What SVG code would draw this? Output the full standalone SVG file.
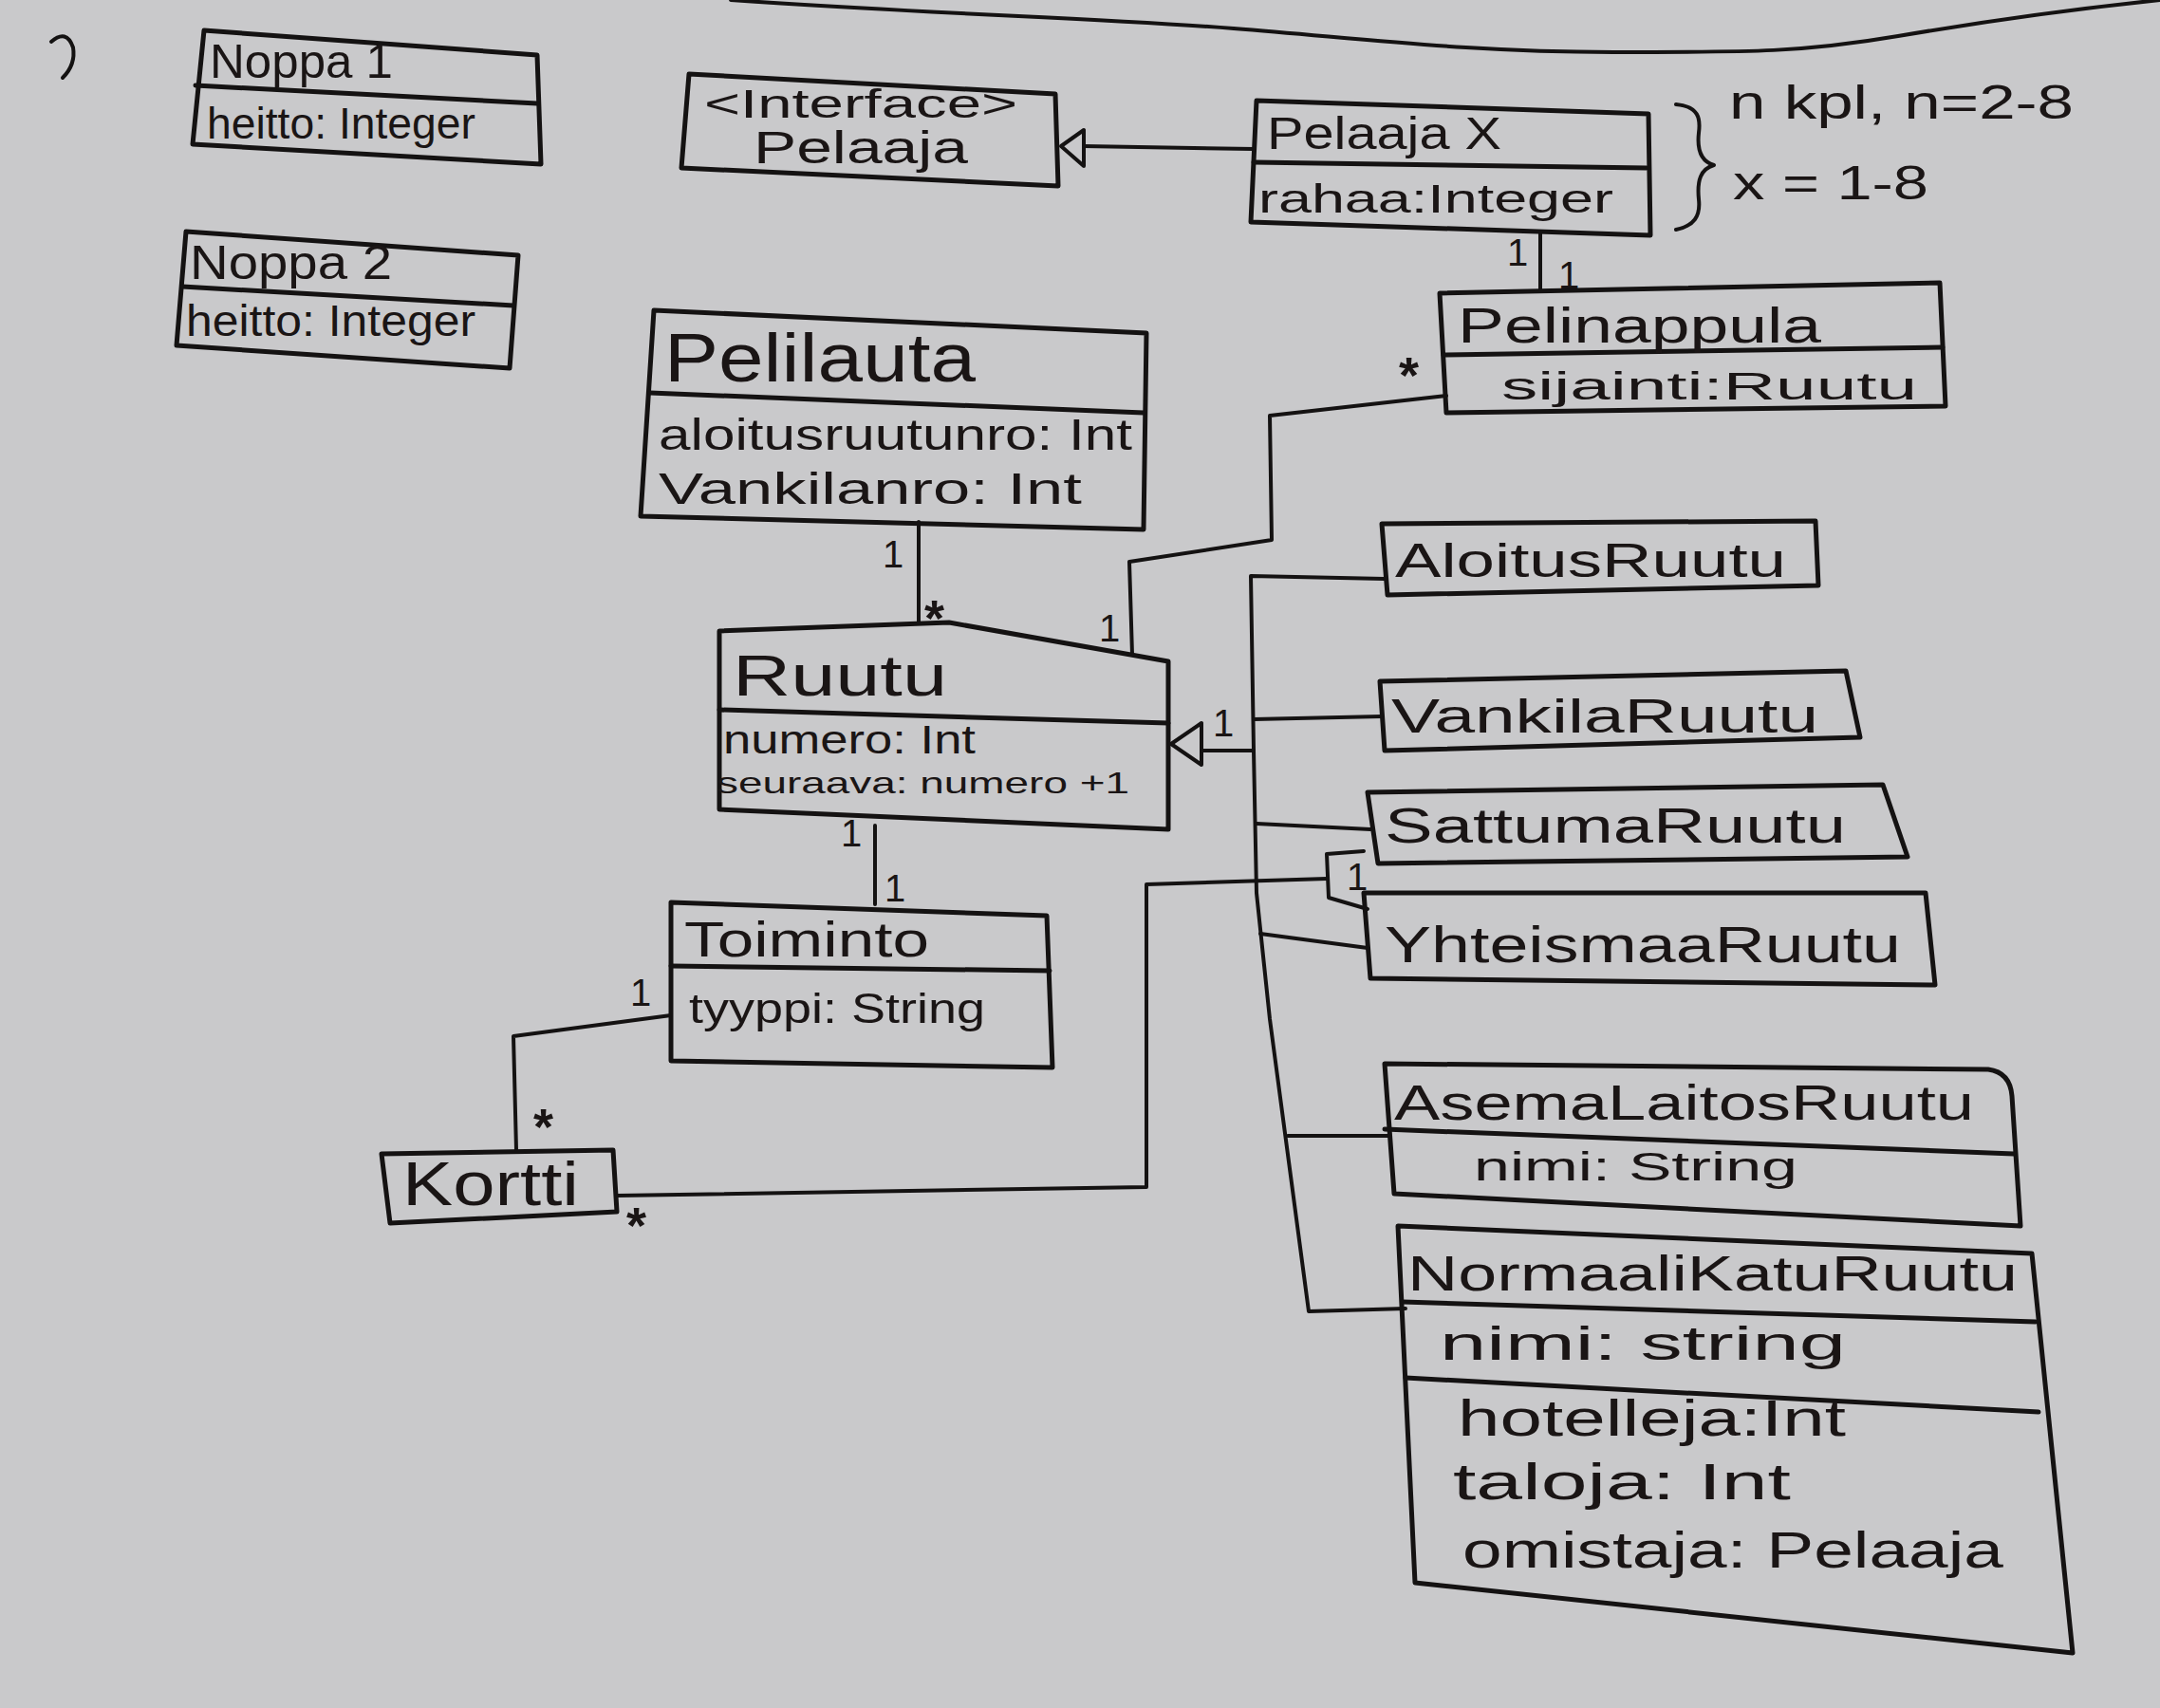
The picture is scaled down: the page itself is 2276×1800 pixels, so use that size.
<svg xmlns="http://www.w3.org/2000/svg" width="2276" height="1800" viewBox="0 0 2276 1800">
<style>
.bx{fill:none;stroke:#141212;stroke-width:5;stroke-linejoin:round;stroke-linecap:round}
.ln{fill:none;stroke:#141212;stroke-width:4;stroke-linejoin:round;stroke-linecap:round}
.t{font-family:"Liberation Sans","DejaVu Sans",sans-serif;fill:#1a1515}
.lb{font-family:"Liberation Sans","DejaVu Sans",sans-serif;fill:#1a1515;font-size:40px}
.st{font-family:"Liberation Sans","DejaVu Sans",sans-serif;fill:#1a1515;font-size:54px;font-weight:bold}
</style>
<rect width="2276" height="1800" fill="#c9c9cb"/>
<path class="ln" d="M770,0 C1000,16 1150,18 1300,30 S1550,55 1700,55 S1900,55 2000,38 S2200,8 2276,0"/>
<path class="ln" d="M54,44 Q70,30 77,50 Q80,68 66,82" stroke-width="7"/>

<g id="connectors">
  <path class="ln" d="M1321,157 L1142,154"/>
  <path class="ln" d="M1118,154 L1142,137 L1142,175 Z" fill="#c9c9cb"/>
  <path class="ln" d="M1623,244 L1623,306"/>
  <path class="ln" d="M1524,417 L1338,438 L1340,569 L1190,592 L1193,690"/>
  <path class="ln" d="M968,550 L968,657"/>
  <path class="ln" d="M922,870 L922,953"/>
  <path class="ln" d="M707,1070 L541,1092 L544,1212"/>
  <path class="ln" d="M650,1260 L1208,1251 L1208,932 L1398,926"/>
  <path class="ln" d="M1437,897 L1398,900 L1400,946 L1441,958"/>
  <path class="ln" d="M1234,784 L1266,762 L1266,806 Z" fill="#c9c9cb"/>
  <path class="ln" d="M1266,791 L1321,791"/>
  <path class="ln" d="M1459,610 L1318,607 L1321,791 L1324,941 L1338,1074 L1379,1382 L1481,1379"/>
  <path class="ln" d="M1321,758 L1456,755"/>
  <path class="ln" d="M1324,868 L1444,874"/>
  <path class="ln" d="M1328,984 L1441,999"/>
  <path class="ln" d="M1357,1197 L1463,1197"/>
  <text class="lb" x="1588" y="280">1</text>
  <text class="lb" x="1642" y="304">1</text>
  <text class="st" x="1474" y="414">*</text>
  <text class="lb" x="1158" y="676">1</text>
  <text class="lb" x="930" y="598">1</text>
  <text class="st" x="974" y="670">*</text>
  <text class="lb" x="886" y="892">1</text>
  <text class="lb" x="932" y="950">1</text>
  <text class="lb" x="664" y="1060">1</text>
  <text class="st" x="562" y="1206">*</text>
  <text class="st" x="660" y="1310">*</text>
  <text class="lb" x="1419" y="938">1</text>
  <text class="lb" x="1278" y="776">1</text>
</g>

<g id="noppa1">
  <path class="bx" d="M215,32 L566,58 L570,173 L203,152 Z"/>
  <path class="bx" d="M206,90 L566,109"/>
  <text class="t" x="221" y="82" font-size="50" textLength="193" lengthAdjust="spacingAndGlyphs">Noppa 1</text>
  <text class="t" x="218" y="146" font-size="46" textLength="283" lengthAdjust="spacingAndGlyphs">heitto: Integer</text>
</g>
<g id="noppa2">
  <path class="bx" d="M196,244 L546,269 L537,388 L186,364 Z"/>
  <path class="bx" d="M192,302 L541,322"/>
  <text class="t" x="200" y="294" font-size="50" textLength="213" lengthAdjust="spacingAndGlyphs">Noppa 2</text>
  <text class="t" x="196" y="354" font-size="46" textLength="305" lengthAdjust="spacingAndGlyphs">heitto: Integer</text>
</g>
<g id="interface-pelaaja">
  <path class="bx" d="M726,78 L1112,99 L1115,196 L718,177 Z"/>
  <text class="t" x="742" y="124" font-size="42" textLength="330" lengthAdjust="spacingAndGlyphs">&lt;Interface&gt;</text>
  <text class="t" x="794" y="172" font-size="48" textLength="226" lengthAdjust="spacingAndGlyphs">Pelaaja</text>
</g>
<g id="pelaajax">
  <path class="bx" d="M1324,106 L1737,120 L1739,248 L1318,234 Z"/>
  <path class="bx" d="M1321,171 L1735,177"/>
  <text class="t" x="1335" y="157" font-size="48" textLength="247" lengthAdjust="spacingAndGlyphs">Pelaaja X</text>
  <text class="t" x="1326" y="224" font-size="42" textLength="374" lengthAdjust="spacingAndGlyphs">rahaa:Integer</text>
</g>
<g id="note">
  <path class="ln" d="M1766,110 C1790,112 1792,125 1790,140 C1788,158 1792,170 1806,174 C1792,178 1788,190 1790,210 C1792,228 1785,238 1766,242"/>
  <text class="t" x="1822" y="125" font-size="50" textLength="363" lengthAdjust="spacingAndGlyphs">n kpl, n=2-8</text>
  <text class="t" x="1826" y="210" font-size="50" textLength="206" lengthAdjust="spacingAndGlyphs">x = 1-8</text>
</g>
<g id="pelinappula">
  <path class="bx" d="M1517,309 L2044,298 L2050,428 L1524,435 Z"/>
  <path class="bx" d="M1521,374 L2047,366"/>
  <text class="t" x="1536" y="361" font-size="52" textLength="383" lengthAdjust="spacingAndGlyphs">Pelinappula</text>
  <text class="t" x="1582" y="421" font-size="40" textLength="438" lengthAdjust="spacingAndGlyphs">sijainti:Ruutu</text>
</g>
<g id="pelilauta">
  <path class="bx" d="M689,327 L1208,351 L1205,558 L675,544 Z"/>
  <path class="bx" d="M685,414 L1205,435"/>
  <text class="t" x="700" y="402" font-size="72" textLength="328" lengthAdjust="spacingAndGlyphs">Pelilauta</text>
  <text class="t" x="694" y="474" font-size="46" textLength="499" lengthAdjust="spacingAndGlyphs">aloitusruutunro: Int</text>
  <text class="t" x="694" y="531" font-size="46" textLength="446" lengthAdjust="spacingAndGlyphs">Vankilanro: Int</text>
</g>
<g id="ruutu">
  <path class="bx" d="M758,665 L1000,656 L1231,697 L1231,874 L758,853 Z"/>
  <path class="bx" d="M758,748 L1231,762"/>
  <text class="t" x="772" y="733" font-size="62" textLength="226" lengthAdjust="spacingAndGlyphs">Ruutu</text>
  <text class="t" x="762" y="794" font-size="42" textLength="266" lengthAdjust="spacingAndGlyphs">numero: Int</text>
  <text class="t" x="755" y="836" font-size="32" textLength="435" lengthAdjust="spacingAndGlyphs">seuraava: numero +1</text>
</g>
<g id="toiminto">
  <path class="bx" d="M707,951 L1103,965 L1109,1125 L707,1118 Z"/>
  <path class="bx" d="M707,1018 L1106,1023"/>
  <text class="t" x="721" y="1008" font-size="52" textLength="258" lengthAdjust="spacingAndGlyphs">Toiminto</text>
  <text class="t" x="726" y="1078" font-size="44" textLength="312" lengthAdjust="spacingAndGlyphs">tyyppi: String</text>
</g>
<g id="kortti">
  <path class="bx" d="M402,1216 L646,1212 L650,1277 L411,1289 Z"/>
  <text class="t" x="424" y="1270" font-size="64" textLength="186" lengthAdjust="spacingAndGlyphs">Kortti</text>
</g>
<g id="aloitusruutu">
  <path class="bx" d="M1456,552 L1913,549 L1916,617 L1462,627 Z"/>
  <text class="t" x="1470" y="608" font-size="50" textLength="412" lengthAdjust="spacingAndGlyphs">AloitusRuutu</text>
</g>
<g id="vankilaruutu">
  <path class="bx" d="M1454,718 L1945,707 L1960,777 L1459,791 Z"/>
  <text class="t" x="1466" y="772" font-size="50" textLength="450" lengthAdjust="spacingAndGlyphs">VankilaRuutu</text>
</g>
<g id="sattumaruutu">
  <path class="bx" d="M1441,835 L1984,827 L2010,903 L1452,910 Z"/>
  <text class="t" x="1459" y="888" font-size="52" textLength="486" lengthAdjust="spacingAndGlyphs">SattumaRuutu</text>
</g>
<g id="yhteismaaruutu">
  <path class="bx" d="M1437,941 L2029,941 L2039,1038 L1444,1031 Z"/>
  <text class="t" x="1459" y="1014" font-size="54" textLength="544" lengthAdjust="spacingAndGlyphs">YhteismaaRuutu</text>
</g>
<g id="asemalaitosruutu">
  <path class="bx" d="M1459,1121 L2095,1127 Q2118,1130 2120,1155 L2129,1292 L1469,1258 Z"/>
  <path class="bx" d="M1459,1190 L2122,1216"/>
  <text class="t" x="1469" y="1180" font-size="52" textLength="611" lengthAdjust="spacingAndGlyphs">AsemaLaitosRuutu</text>
  <text class="t" x="1553" y="1244" font-size="42" textLength="341" lengthAdjust="spacingAndGlyphs">nimi: String</text>
</g>
<g id="normaalikaturuutu">
  <path class="bx" d="M1473,1292 L2141,1321 L2184,1742 L1491,1668 Z"/>
  <path class="bx" d="M1478,1372 L2145,1393"/>
  <path class="bx" d="M1481,1452 L2148,1488"/>
  <text class="t" x="1483" y="1360" font-size="52" textLength="643" lengthAdjust="spacingAndGlyphs">NormaaliKatuRuutu</text>
  <text class="t" x="1517" y="1433" font-size="50" textLength="428" lengthAdjust="spacingAndGlyphs">nimi: string</text>
  <text class="t" x="1536" y="1513" font-size="54" textLength="409" lengthAdjust="spacingAndGlyphs">hotelleja:Int</text>
  <text class="t" x="1531" y="1580" font-size="54" textLength="356" lengthAdjust="spacingAndGlyphs">taloja: Int</text>
  <text class="t" x="1541" y="1652" font-size="54" textLength="570" lengthAdjust="spacingAndGlyphs">omistaja: Pelaaja</text>
</g>
</svg>
